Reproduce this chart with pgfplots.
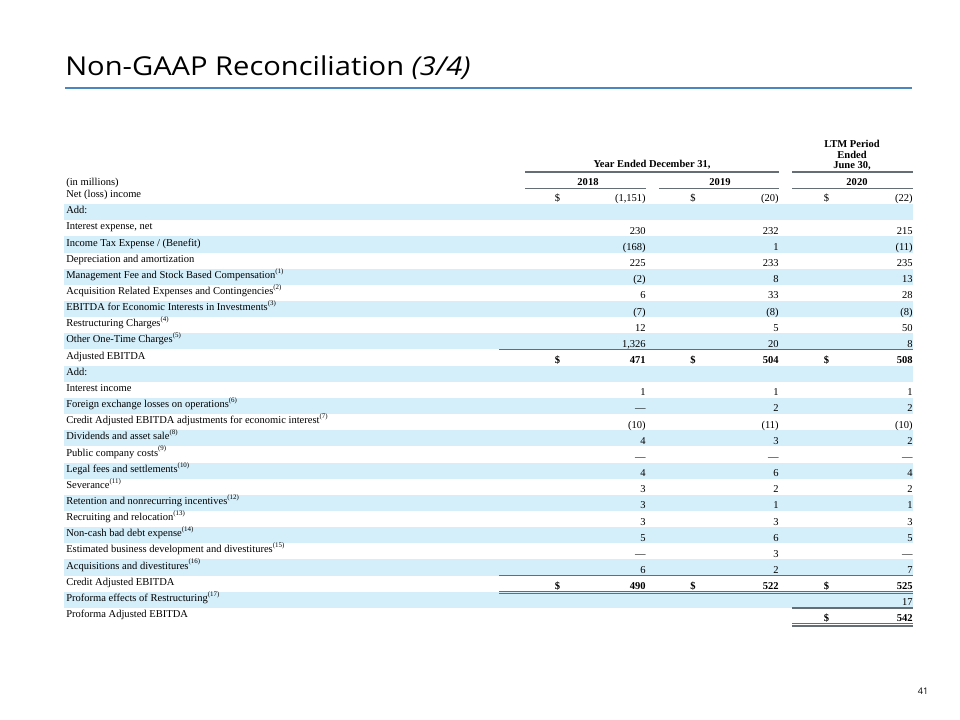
\documentclass[border=0pt]{standalone}
\usepackage{fontspec}
\setmainfont{Liberation Serif}
\newfontfamily\titlefont[Ligatures=NoCommon]{Open Sans}
\usepackage{pgfplots}
\usepackage{pgfplotstable}
\pgfplotsset{compat=1.18}
\definecolor{shade}{RGB}{212,238,250}
\definecolor{rulec}{RGB}{100,110,116}
\definecolor{titleline}{RGB}{74,134,192}
\DeclareRobustCommand\fn[1]{\raisebox{1.05ex}{\fontsize{5.2}{5}\selectfont(#1)}}

\pgfplotstableread[col sep=semicolon]{
r;label;a;b;c
0;Net (loss) income;(1,151);(20);(22)
1;Add:; ; ; 
2;Interest expense, net;230;232;215
3;Income Tax Expense / (Benefit);(168);1;(11)
4;Depreciation and amortization;225;233;235
5;Management Fee and Stock Based Compensation\fn{1};(2);8;13
6;Acquisition Related Expenses and Contingencies\fn{2};6;33;28
7;EBITDA for Economic Interests in Investments\fn{3};(7);(8);(8)
8;Restructuring Charges\fn{4};12;5;50
9;Other One-Time Charges\fn{5};1,326;20;8
10;Adjusted EBITDA;\textbf{471};\textbf{504};\textbf{508}
11;Add:; ; ; 
12;Interest income;1;1;1
13;Foreign exchange losses on operations\fn{6};—;2;2
14;Credit Adjusted EBITDA adjustments for economic interest\fn{7};(10);(11);(10)
15;Dividends and asset sale\fn{8};4;3;2
16;Public company costs\fn{9};—;—;—
17;Legal fees and settlements\fn{10};4;6;4
18;Severance\fn{11};3;2;2
19;Retention and nonrecurring incentives\fn{12};3;1;1
20;Recruiting and relocation\fn{13};3;3;3
21;Non-cash bad debt expense\fn{14};5;6;5
22;Estimated business development and divestitures\fn{15};—;3;—
23;Acquisitions and divestitures\fn{16};6;2;7
24;Credit Adjusted EBITDA;\textbf{490};\textbf{522};\textbf{525}
25;Proforma effects of Restructuring\fn{17}; ; ;17
26;Proforma Adjusted EBITDA; ; ;\textbf{542}
}\rows

\pgfplotsset{
  tbl/.style={forget plot, only marks, mark=none, point meta=explicit symbolic,
    nodes near coords={\pgfplotspointmeta},
    nodes near coords style={inner sep=0pt, font=\fontsize{7.9}{9}\selectfont, text=black, anchor=#1}},
  hrule/.style={forget plot, draw=rulec, line width=#1, mark=none},
}

\begin{document}
\begin{tikzpicture}
\begin{axis}[scale only axis, width=720pt, height=540pt,
  xmin=0, xmax=960, ymin=0, ymax=720, y dir=reverse,
  hide axis, clip=false]
\path (axis cs:0,0) rectangle (axis cs:960,720);

% shaded bands
\pgfplotsinvokeforeach{1,3,5,7,9,11,13,15,17,19,21,23,25}{
  \addplot[forget plot, draw=shade, line width=12.11pt, mark=none]
    table[row sep=\\, x=x, y expr={188+16.15*#1+8.075}] {x\\64\\913\\};
}

% title
\node[anchor=base west, inner sep=0pt] at (axis cs:65,75.5)
  {\scalebox{1.12}[1]{\titlefont\fontsize{19.5}{21}\selectfont Non-GAAP Reconciliation \textit{(3/4)}}};
\addplot[forget plot, draw=titleline, line width=0.9pt, mark=none] coordinates {(65,88) (912,88)};

% header
\begin{scope}[font=\fontsize{7.9}{9}\selectfont\bfseries]
\node[anchor=base, inner sep=0pt] at (axis cs:652,168) {Year Ended December 31,};
\node[anchor=base, inner sep=0pt] at (axis cs:852,148) {LTM Period};
\node[anchor=base, inner sep=0pt] at (axis cs:852,159) {Ended};
\node[anchor=base, inner sep=0pt] at (axis cs:852,168.5) {June 30,};
\node[anchor=base, inner sep=0pt] at (axis cs:588,185.5) {2018};
\node[anchor=base, inner sep=0pt] at (axis cs:720,185.5) {2019};
\node[anchor=base, inner sep=0pt] at (axis cs:857,185.5) {2020};
\end{scope}
\node[anchor=base west, inner sep=0pt, font=\fontsize{7.9}{9}\selectfont] at (axis cs:66,186) {(in millions)};

% header rules
\addplot[hrule=1.1pt] coordinates {(525,172) (779,172)};
\addplot[hrule=1.1pt] coordinates {(792,172) (913,172)};
\addplot[hrule=1.1pt] coordinates {(525,188.3) (646,188.3)};
\addplot[hrule=1.1pt] coordinates {(659,188.3) (779,188.3)};
\addplot[hrule=1.1pt] coordinates {(792,188.3) (913,188.3)};

% labels and values
\addplot[tbl=base west] table[x expr=66, y expr={188+16.15*\thisrow{r}+9.6}, meta=label] {\rows};
\addplot[tbl=base east] table[x expr=646, y expr={188+16.15*\thisrow{r}+14}, meta=a] {\rows};
\addplot[tbl=base east] table[x expr=779, y expr={188+16.15*\thisrow{r}+14}, meta=b] {\rows};
\addplot[tbl=base east] table[x expr=913, y expr={188+16.15*\thisrow{r}+14}, meta=c] {\rows};

% dollar signs
\addplot[tbl=base east] coordinates {
  (560.5,202) [\$] (696,202) [\$] (829.5,202) [\$]
  (560.5,363.5) [\textbf{\$}] (696,363.5) [\textbf{\$}] (829.5,363.5) [\textbf{\$}]
  (560.5,589.6) [\textbf{\$}] (696,589.6) [\textbf{\$}] (829.5,589.6) [\textbf{\$}]
  (829.5,621.8) [\textbf{\$}]
};

% total rules
\addplot[hrule=1.2pt] coordinates {(499,349.6) (913,349.6)};
\addplot[hrule=1.0pt] coordinates {(499,575.6) (913,575.6)};
\addplot[hrule=0.9pt] coordinates {(499,591.2) (913,591.2)};
\addplot[hrule=0.9pt] coordinates {(499,593.6) (913,593.6)};
\addplot[hrule=1.0pt] coordinates {(792,607.9) (913,607.9)};
\addplot[hrule=0.9pt] coordinates {(792,623.6) (913,623.6)};
\addplot[hrule=0.9pt] coordinates {(792,626.0) (913,626.0)};

% page number
\node[anchor=base, inner sep=0pt, font=\titlefont\fontsize{6.8}{8}\selectfont] at (axis cs:923,694) {41};
\end{axis}
\end{tikzpicture}
\end{document}
